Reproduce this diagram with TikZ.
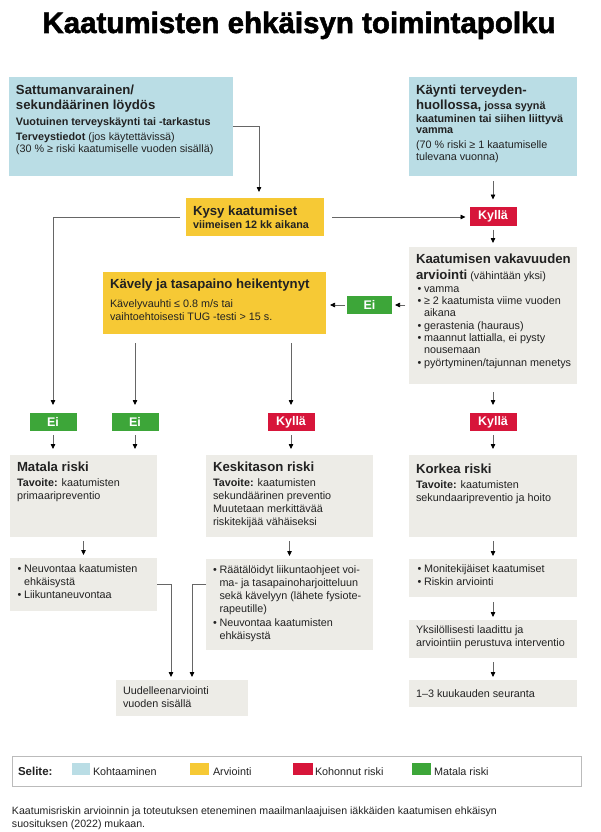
\documentclass[tikz,border=0pt]{standalone}
\usepackage{fontspec}
\setmainfont{Liberation Sans}
\newfontfamily\titlefont{Liberation Sans Bold}[FakeBold=1.8]
\usetikzlibrary{arrows.meta}
\definecolor{cblue}{HTML}{BADDE5}
\definecolor{cyellow}{HTML}{F6C935}
\definecolor{cred}{HTML}{D7153A}
\definecolor{cgreen}{HTML}{3DA639}
\definecolor{cgrey}{HTML}{EDECE7}
\definecolor{linec}{HTML}{666666}
\definecolor{txtc}{HTML}{222222}
\definecolor{legc}{HTML}{BBBBBB}
\begin{document}
\begin{tikzpicture}[x=1pt,y=-1pt,
  bx/.style={inner sep=0pt, outer sep=0pt, draw=none},
  badge/.style={bx, minimum width=47pt, minimum height=19pt, text=white, font=\fontsize{12.5}{14}\selectfont\bfseries},
  tx/.style={anchor=base west, inner sep=0pt, outer sep=0pt, text=txtc, font=\fontsize{10.8}{12.8}\selectfont},
  hb/.style={tx, font=\fontsize{13.2}{15}\selectfont\bfseries},
  sb/.style={tx, font=\fontsize{10.8}{12.8}\selectfont\bfseries},
  con/.style={draw=linec, line width=0.75pt},
  arr/.style={con, -{Triangle[length=5pt,width=4.5pt,color=black]}}
]
\useasboundingbox (0,0) rectangle (600,832);
\fill[white] (0,0) rectangle (600,832);

% title
\node[anchor=base, inner sep=0pt, font=\titlefont\fontsize{29.5}{32}\selectfont] (title) at (299,33) {Kaatumisten ehkäisyn toimintapolku};

% boxes
\node[bx, fill=cblue, minimum width=224pt, minimum height=99pt] (b1) at (121,126.5) {};
\node[bx, fill=cblue, minimum width=168pt, minimum height=99pt] (b2) at (493,126.5) {};
\node[bx, fill=cyellow, minimum width=138pt, minimum height=38pt] (kysy) at (255,217) {};
\node[bx, fill=cgrey, minimum width=168pt, minimum height=137pt] (vak) at (493,315.5) {};
\node[bx, fill=cyellow, minimum width=223pt, minimum height=62pt] (kav) at (214.5,303) {};
\node[bx, fill=cgrey, minimum width=147pt, minimum height=82pt] (mat) at (83.5,496) {};
\node[bx, fill=cgrey, minimum width=167pt, minimum height=82pt] (kes) at (289.5,496) {};
\node[bx, fill=cgrey, minimum width=168pt, minimum height=82pt] (kor) at (493,496) {};
\node[bx, fill=cgrey, minimum width=147pt, minimum height=53pt] (matL) at (83.5,584.5) {};
\node[bx, fill=cgrey, minimum width=167pt, minimum height=91pt] (kesL) at (289.5,604.5) {};
\node[bx, fill=cgrey, minimum width=168pt, minimum height=38pt] (korL) at (493,578) {};
\node[bx, fill=cgrey, minimum width=168pt, minimum height=38pt] (yks) at (493,639) {};
\node[bx, fill=cgrey, minimum width=168pt, minimum height=27pt] (seur) at (493,693.5) {};
\node[bx, fill=cgrey, minimum width=132pt, minimum height=36pt] (uud) at (182,698) {};

% badges
\node[badge, fill=cred] (ky1) at (493,216) {Kyllä};
\node[badge, fill=cgreen, minimum width=45pt, minimum height=18pt] (ei1) at (369.5,305) {Ei};
\node[badge, fill=cgreen, minimum height=18pt] (ei2) at (53,422) {Ei};
\node[badge, fill=cgreen, minimum height=18pt] (ei3) at (135,422) {Ei};
\node[badge, fill=cred, minimum height=18pt] (ky2) at (291,422) {Kyllä};
\node[badge, fill=cred, minimum height=18pt] (ky3) at (493,422) {Kyllä};

% connectors
\draw[arr, shorten >=6pt] (b1.east) -| ([xshift=4pt]kysy.north);
\draw[arr, shorten <=6pt, shorten >=8pt] (kysy.west) -| (ei2.north);
\draw[arr, shorten <=8pt, shorten >=4pt] (kysy.east) -- (kysy.east -| ky1.west);
\draw[arr, shorten <=5pt, shorten >=7pt] (b2.south) -- (ky1.north);
\draw[arr, shorten <=4pt, shorten >=4pt] (ky1.south) -- (vak.north);
\draw[arr, shorten <=4pt, shorten >=3pt] (ei1.east -| vak.west) -- (ei1.east);
\draw[arr, shorten <=2pt, shorten >=4pt] (ei1.west) -- (ei1.west -| kav.east);
\draw[arr, shorten <=9pt, shorten >=8pt] (ei3.north |- kav.south) -- (ei3.north);
\draw[arr, shorten <=9pt, shorten >=8pt] (ky2.north |- kav.south) -- (ky2.north);
\draw[arr, shorten <=8pt, shorten >=8pt] (vak.south) -- (ky3.north);
\draw[arr, shorten <=4pt, shorten >=6pt] (ei2.south) -- (ei2.south |- mat.north);
\draw[arr, shorten <=4pt, shorten >=6pt] (ei3.south) -- (ei3.south |- mat.north);
\draw[arr, shorten <=4pt, shorten >=6pt] (ky2.south) -- (ky2.south |- kes.north);
\draw[arr, shorten <=4pt, shorten >=6pt] (ky3.south) -- (kor.north);
\draw[arr, shorten <=4pt, shorten >=3pt] (mat.south) -- (matL.north);
\draw[arr, shorten <=4pt, shorten >=3pt] (kes.south) -- (kesL.north);
\draw[arr, shorten <=4pt, shorten >=3pt] (kor.south) -- (korL.north);
\draw[arr, shorten <=5pt, shorten >=3pt] (korL.south) -- (yks.north);
\draw[arr, shorten <=4pt, shorten >=3pt] (yks.south) -- (seur.north);
\draw[arr, shorten >=3pt] (matL.east) -| ([xshift=-11pt]uud.north);
\draw[arr, shorten >=3pt] (kesL.west |- matL.east) -| ([xshift=10pt]uud.north);

% left blue text
\node[hb] (lb1) at (16,95) {Sattumanvarainen/};
\node[hb] (lb2) at (16,109.5) {sekundäärinen löydös};
\node[sb] (lb3) at (16,125) {Vuotuinen terveyskäynti tai -tarkastus};
\node[tx] (lb4) at (16,140) {\textbf{Terveystiedot} (jos käytettävissä)};
\node[tx] (lb5) at (16,153) {(30 \% ≥ riski kaatumiselle vuoden sisällä)};

% right blue text
\node[hb] (rb1) at (416,95) {Käynti terveyden-};
\node[sb] (rb2) at (416,109.5) {{\fontsize{13.2}{15}\selectfont huollossa,} jossa syynä};
\node[sb] (rb3) at (416,122) {kaatuminen tai siihen liittyvä};
\node[sb] (rb4) at (416,134) {vamma};
\node[tx] (rb5) at (416,148) {(70 \% riski ≥ 1 kaatumiselle};
\node[tx] (rb6) at (416,160) {tulevana vuonna)};

% kysy text
\node[hb] (ks1) at (193,215) {Kysy kaatumiset};
\node[sb] (ks2) at (193,228) {viimeisen 12 kk aikana};

% kavely text
\node[hb] (kv1) at (110,288) {Kävely ja tasapaino heikentynyt};
\node[tx] (kv2) at (110,307) {Kävelyvauhti ≤ 0.8 m/s tai};
\node[tx] (kv3) at (110,320) {vaihtoehtoisesti TUG -testi > 15 s.};

% vakavuus text
\node[hb] (va1) at (416,263) {Kaatumisen vakavuuden};
\node[tx] (va2) at (416,279) {{\fontsize{13.2}{15}\selectfont\bfseries arviointi} (vähintään yksi)};
\node[tx] (vb1) at (417.5,292) {•};
\node[tx] (va3) at (424,292) {vamma};
\node[tx] (vb2) at (417.5,304) {•};
\node[tx] (va4) at (424,304) {≥ 2 kaatumista viime vuoden};
\node[tx] (va5) at (424,316) {aikana};
\node[tx] (vb3) at (417.5,329) {•};
\node[tx] (va6) at (424,329) {gerastenia (hauraus)};
\node[tx] (vb4) at (417.5,341) {•};
\node[tx] (va7) at (424,341) {maannut lattialla, ei pysty};
\node[tx] (va8) at (424,353) {nousemaan};
\node[tx] (vb5) at (417.5,366) {•};
\node[tx] (va9) at (424,366) {pyörtyminen/tajunnan menetys};

% matala
\node[hb] (ma1) at (17,471) {Matala riski};
\node[tx] (ma2) at (17,486) {\textbf{Tavoite:} kaatumisten};
\node[tx] (ma3) at (17,499) {primaaripreventio};
\node[tx] (mb1) at (17.5,572) {•};
\node[tx] (ml1) at (24,572) {Neuvontaa kaatumisten};
\node[tx] (ml2) at (24,585) {ehkäisystä};
\node[tx] (mb2) at (17.5,598) {•};
\node[tx] (ml3) at (24,598) {Liikuntaneuvontaa};

% keskitason
\node[hb] (ke1) at (213,471) {Keskitason riski};
\node[tx] (ke2) at (213,486) {\textbf{Tavoite:} kaatumisten};
\node[tx] (ke3) at (213,499) {sekundäärinen preventio};
\node[tx] (ke4) at (213,512) {Muutetaan merkittävää};
\node[tx] (ke5) at (213,525) {riskitekijää vähäiseksi};
\node[tx] (kb1) at (213,573) {•};
\node[tx] (kl1) at (219.5,573) {Räätälöidyt liikuntaohjeet voi-};
\node[tx] (kl2) at (219.5,586) {ma- ja tasapainoharjoitteluun};
\node[tx] (kl3) at (219.5,599) {sekä kävelyyn (lähete fysiote-};
\node[tx] (kl4) at (219.5,612) {rapeutille)};
\node[tx] (kb2) at (213,626) {•};
\node[tx] (kl5) at (219.5,626) {Neuvontaa kaatumisten};
\node[tx] (kl6) at (219.5,639) {ehkäisystä};

% korkea
\node[hb] (ko1) at (416,473) {Korkea riski};
\node[tx] (ko2) at (416,488) {\textbf{Tavoite:} kaatumisten};
\node[tx] (ko3) at (416,501) {sekundaaripreventio ja hoito};
\node[tx] (ob1) at (417.5,572) {•};
\node[tx] (ol1) at (424,572) {Monitekijäiset kaatumiset};
\node[tx] (ob2) at (417.5,585) {•};
\node[tx] (ol2) at (424,585) {Riskin arviointi};
\node[tx] (yk1) at (416,633) {Yksilöllisesti laadittu ja};
\node[tx] (yk2) at (416,646) {arviointiin perustuva interventio};
\node[tx] (se1) at (416,697) {1–3 kuukauden seuranta};

% uudelleen
\node[tx] (uu1) at (123,694) {Uudelleenarviointi};
\node[tx] (uu2) at (123,707) {vuoden sisällä};

% legend
\node[bx, draw=legc, line width=1pt, fill=white, minimum width=569pt, minimum height=30pt] (leg) at (296.5,771) {};
\node[tx, font=\fontsize{11.5}{13}\selectfont\bfseries] (sel) at (18,775.5) {Selite:};
\node[bx, fill=cblue, minimum width=18pt, minimum height=12pt] (sw1) at (81,769) {};
\node[tx] (lg1) at (93,775.5) {Kohtaaminen};
\node[bx, fill=cyellow, minimum width=19pt, minimum height=12pt] (sw2) at (199.5,769) {};
\node[tx] (lg2) at (213,775.5) {Arviointi};
\node[bx, fill=cred, minimum width=20pt, minimum height=12pt] (sw3) at (303,769) {};
\node[tx] (lg3) at (315,775.5) {Kohonnut riski};
\node[bx, fill=cgreen, minimum width=19pt, minimum height=12pt] (sw4) at (421.5,769) {};
\node[tx] (lg4) at (434,775.5) {Matala riski};

% footer
\node[tx, font=\fontsize{10.6}{12.5}\selectfont] (ft1) at (12,814) {Kaatumisriskin arvioinnin ja toteutuksen eteneminen maailmanlaajuisen iäkkäiden kaatumisen ehkäisyn};
\node[tx, font=\fontsize{10.6}{12.5}\selectfont] (ft2) at (12,827) {suosituksen (2022) mukaan.};
\end{tikzpicture}
\end{document}
